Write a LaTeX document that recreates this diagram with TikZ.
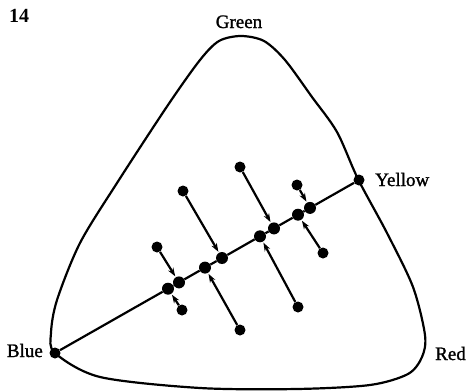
\documentclass[tikz,border=0pt]{standalone}
\usepackage{fontspec}
\setmainfont{Liberation Serif}
\newfontfamily\lblfont[FakeBold=1.3]{Liberation Serif}
\usetikzlibrary{arrows.meta}
\begin{document}
\begin{tikzpicture}[x=1pt,y=-1pt,
  lw/.style={line width=2.2pt},
  bigdot/.style={circle,fill=black,inner sep=0pt,minimum size=12pt},
  smalldot/.style={circle,fill=black,inner sep=0pt,minimum size=11pt},
  lbl/.style={font=\lblfont\fontsize{19}{22}\selectfont,inner sep=0pt},
  arr/.style={lw,-{Stealth[length=8.5pt,width=6pt]},shorten >=1pt}]
\useasboundingbox (0,0) rectangle (467,391);
% outline
\draw[lw] plot[smooth cycle,tension=0.5] coordinates{
 (241,36) (264,41) (285,60) (312,97) (337,132) (358,179) (387,233) (413,287) (425,335)
 (422,357) (408,374) (370,385) (297,389) (200,388) (100,377) (55,353)
 (51,333) (57,300) (80,243) (117,183) (168,105) (200,60) (219,41)};
% end points
\node[smalldot] (b) at (55,353) {};
\node[smalldot] (y) at (359,180) {};
% points on the line
\node[bigdot] (p1a) at (168,288.7) {};
\node[bigdot] (p1b) at (179,282.4) {};
\node[bigdot] (p2a) at (205,267.6) {};
\node[bigdot] (p2b) at (222,258.0) {};
\node[bigdot] (p3a) at (260,236.3) {};
\node[bigdot] (p3b) at (274,228.4) {};
\node[bigdot] (p4a) at (298,214.7) {};
\node[bigdot] (p4b) at (310,207.9) {};
\draw[lw] (b) -- (p1a) -- (p1b) -- (p2a) -- (p2b) -- (p3a) -- (p3b) -- (p4a) -- (p4b) -- (y);
% outer points
\node[smalldot] (u1) at (157,247) {};
\node[smalldot] (l1) at (182,310) {};
\node[smalldot] (u2) at (183,191) {};
\node[smalldot] (l2) at (240,330) {};
\node[smalldot] (u3) at (240,167) {};
\node[smalldot] (l3) at (298,307) {};
\node[smalldot] (u4) at (297,185) {};
\node[smalldot] (l4) at (323,253) {};
\draw[arr] (u1) -- (p1b);
\draw[arr] (l1) -- (p1a);
\draw[arr] (u2) -- (p2b);
\draw[arr] (l2) -- (p2a);
\draw[arr] (u3) -- (p3b);
\draw[arr] (l3) -- (p3a);
\draw[arr] (u4) -- (p4b);
\draw[arr] (l4) -- (p4a);
% labels
\node[inner sep=0pt,font=\fontsize{20}{22}\selectfont\bfseries,anchor=base west] (n14) at (9,22) {14};
\node[lbl,anchor=base] (g) at (239,28) {Green};
\node[lbl,anchor=base west] (yl) at (375,186) {Yellow};
\node[lbl,anchor=base east] (bl) at (43,357) {Blue};
\node[lbl,anchor=base west] (rl) at (435,360) {Red};
\end{tikzpicture}
\end{document}
